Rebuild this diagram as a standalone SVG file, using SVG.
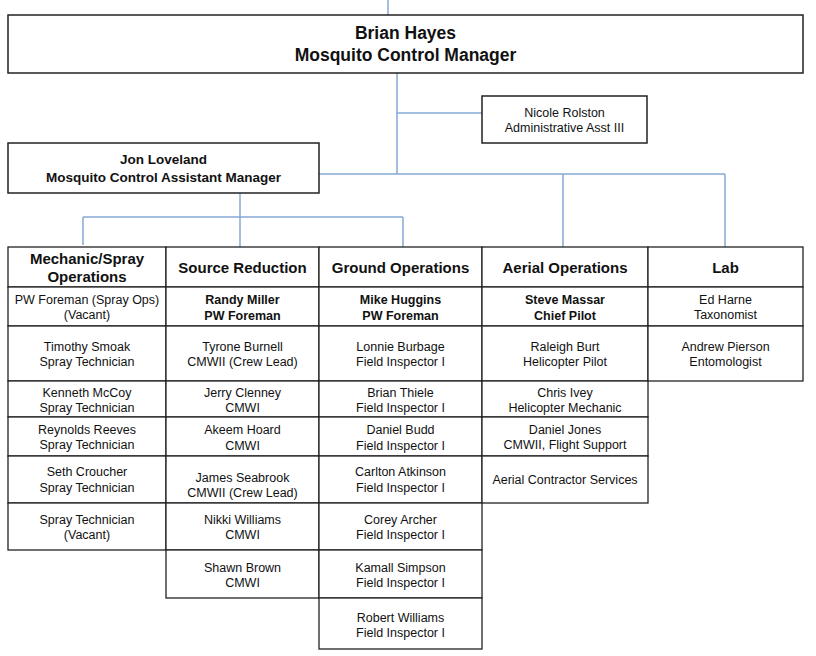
<svg xmlns="http://www.w3.org/2000/svg" width="816" height="656" viewBox="0 0 816 656">
<style>
  .box { fill: #ffffff; stroke: #222222; stroke-width: 1.5; }
  .cell { fill: #ffffff; stroke: #222222; stroke-width: 1.3; }
  .conn { stroke: #86a8d6; stroke-width: 1.5; fill: none; }
  text { font-family: "Liberation Sans", Arial, sans-serif; fill: #111111; text-anchor: middle; }
  .t1 { font-size: 17.5px; font-weight: bold; }
  .t2 { font-size: 13.5px; font-weight: bold; }
  .hd { font-size: 15px; font-weight: bold; }
  .bd { font-size: 12.5px; }
  .bb { font-size: 12.5px; font-weight: bold; }
</style>
<rect x="0" y="0" width="816" height="656" fill="#ffffff"/>
<g id="connectors">
  <line class="conn" x1="388" y1="0" x2="388" y2="15"/>
  <line class="conn" x1="397" y1="73" x2="397" y2="174"/>
  <line class="conn" x1="397" y1="113" x2="482" y2="113"/>
  <line class="conn" x1="319" y1="174" x2="725" y2="174"/>
  <line class="conn" x1="563" y1="174" x2="563" y2="247"/>
  <line class="conn" x1="725" y1="174" x2="725" y2="247"/>
  <line class="conn" x1="240" y1="193" x2="240" y2="247"/>
  <line class="conn" x1="83" y1="217" x2="403" y2="217"/>
  <line class="conn" x1="83" y1="217" x2="83" y2="245"/>
  <line class="conn" x1="403" y1="217" x2="403" y2="247"/>
</g>
<g id="brian-hayes">
  <rect class="box" x="8" y="15" width="795" height="58"/>
  <text class="t1" x="405.5" y="39">Brian Hayes</text>
  <text class="t1" x="405.5" y="61">Mosquito Control Manager</text>
</g>
<g id="nicole-rolston">
  <rect class="box" x="482" y="96" width="165" height="47"/>
  <text class="bd" x="564.5" y="117">Nicole Rolston</text>
  <text class="bd" x="564.5" y="132">Administrative Asst III</text>
</g>
<g id="jon-loveland">
  <rect class="box" x="8" y="143" width="311" height="50"/>
  <text class="t2" x="163.5" y="164">Jon Loveland</text>
  <text class="t2" x="163.5" y="182">Mosquito Control Assistant Manager</text>
</g>

<!-- Column 1: Mechanic/Spray Operations -->
<g id="mechanic-spray-operations">
  <rect class="cell" x="8" y="247" width="158" height="40"/>
  <text class="hd" x="87" y="264">Mechanic/Spray</text>
  <text class="hd" x="87" y="282">Operations</text>
</g>
<g id="pw-foreman-spray-ops">
  <rect class="cell" x="8" y="287" width="158" height="39"/>
  <text class="bd" x="87" y="304">PW Foreman (Spray Ops)</text>
  <text class="bd" x="87" y="319">(Vacant)</text>
</g>
<g id="timothy-smoak">
  <rect class="cell" x="8" y="326" width="158" height="55"/>
  <text class="bd" x="87" y="351">Timothy Smoak</text>
  <text class="bd" x="87" y="366">Spray Technician</text>
</g>
<g id="kenneth-mccoy">
  <rect class="cell" x="8" y="381" width="158" height="36"/>
  <text class="bd" x="87" y="397">Kenneth McCoy</text>
  <text class="bd" x="87" y="412">Spray Technician</text>
</g>
<g id="reynolds-reeves">
  <rect class="cell" x="8" y="417" width="158" height="39"/>
  <text class="bd" x="87" y="434">Reynolds Reeves</text>
  <text class="bd" x="87" y="449">Spray Technician</text>
</g>
<g id="seth-croucher">
  <rect class="cell" x="8" y="456" width="158" height="47"/>
  <text class="bd" x="87" y="476">Seth Croucher</text>
  <text class="bd" x="87" y="492">Spray Technician</text>
</g>
<g id="spray-technician-vacant">
  <rect class="cell" x="8" y="503" width="158" height="47"/>
  <text class="bd" x="87" y="524">Spray Technician</text>
  <text class="bd" x="87" y="539">(Vacant)</text>
</g>

<!-- Column 2: Source Reduction -->
<g id="source-reduction">
  <rect class="cell" x="166" y="247" width="153" height="40"/>
  <text class="hd" x="242.5" y="273">Source Reduction</text>
</g>
<g id="randy-miller">
  <rect class="cell" x="166" y="287" width="153" height="39"/>
  <text class="bb" x="242.5" y="304">Randy Miller</text>
  <text class="bb" x="242.5" y="320">PW Foreman</text>
</g>
<g id="tyrone-burnell">
  <rect class="cell" x="166" y="326" width="153" height="55"/>
  <text class="bd" x="242.5" y="351">Tyrone Burnell</text>
  <text class="bd" x="242.5" y="366">CMWII (Crew Lead)</text>
</g>
<g id="jerry-clenney">
  <rect class="cell" x="166" y="381" width="153" height="36"/>
  <text class="bd" x="242.5" y="397">Jerry Clenney</text>
  <text class="bd" x="242.5" y="412">CMWI</text>
</g>
<g id="akeem-hoard">
  <rect class="cell" x="166" y="417" width="153" height="39"/>
  <text class="bd" x="242.5" y="434">Akeem Hoard</text>
  <text class="bd" x="242.5" y="450">CMWI</text>
</g>
<g id="james-seabrook">
  <rect class="cell" x="166" y="456" width="153" height="47"/>
  <text class="bd" x="242.5" y="482">James Seabrook</text>
  <text class="bd" x="242.5" y="497">CMWII (Crew Lead)</text>
</g>
<g id="nikki-williams">
  <rect class="cell" x="166" y="503" width="153" height="47"/>
  <text class="bd" x="242.5" y="524">Nikki Williams</text>
  <text class="bd" x="242.5" y="539">CMWI</text>
</g>
<g id="shawn-brown">
  <rect class="cell" x="166" y="550" width="153" height="48"/>
  <text class="bd" x="242.5" y="572">Shawn Brown</text>
  <text class="bd" x="242.5" y="587">CMWI</text>
</g>

<!-- Column 3: Ground Operations -->
<g id="ground-operations">
  <rect class="cell" x="319" y="247" width="163" height="40"/>
  <text class="hd" x="400.5" y="273">Ground Operations</text>
</g>
<g id="mike-huggins">
  <rect class="cell" x="319" y="287" width="163" height="39"/>
  <text class="bb" x="400.5" y="304">Mike Huggins</text>
  <text class="bb" x="400.5" y="320">PW Foreman</text>
</g>
<g id="lonnie-burbage">
  <rect class="cell" x="319" y="326" width="163" height="55"/>
  <text class="bd" x="400.5" y="351">Lonnie Burbage</text>
  <text class="bd" x="400.5" y="366">Field Inspector I</text>
</g>
<g id="brian-thiele">
  <rect class="cell" x="319" y="381" width="163" height="36"/>
  <text class="bd" x="400.5" y="397">Brian Thiele</text>
  <text class="bd" x="400.5" y="412">Field Inspector I</text>
</g>
<g id="daniel-budd">
  <rect class="cell" x="319" y="417" width="163" height="39"/>
  <text class="bd" x="400.5" y="434">Daniel Budd</text>
  <text class="bd" x="400.5" y="450">Field Inspector I</text>
</g>
<g id="carlton-atkinson">
  <rect class="cell" x="319" y="456" width="163" height="47"/>
  <text class="bd" x="400.5" y="476">Carlton Atkinson</text>
  <text class="bd" x="400.5" y="492">Field Inspector I</text>
</g>
<g id="corey-archer">
  <rect class="cell" x="319" y="503" width="163" height="47"/>
  <text class="bd" x="400.5" y="524">Corey Archer</text>
  <text class="bd" x="400.5" y="539">Field Inspector I</text>
</g>
<g id="kamall-simpson">
  <rect class="cell" x="319" y="550" width="163" height="48"/>
  <text class="bd" x="400.5" y="572">Kamall Simpson</text>
  <text class="bd" x="400.5" y="587">Field Inspector I</text>
</g>
<g id="robert-williams">
  <rect class="cell" x="319" y="598" width="163" height="51"/>
  <text class="bd" x="400.5" y="622">Robert Williams</text>
  <text class="bd" x="400.5" y="637">Field Inspector I</text>
</g>

<!-- Column 4: Aerial Operations -->
<g id="aerial-operations">
  <rect class="cell" x="482" y="247" width="166" height="40"/>
  <text class="hd" x="565" y="273">Aerial Operations</text>
</g>
<g id="steve-massar">
  <rect class="cell" x="482" y="287" width="166" height="39"/>
  <text class="bb" x="565" y="304">Steve Massar</text>
  <text class="bb" x="565" y="320">Chief Pilot</text>
</g>
<g id="raleigh-burt">
  <rect class="cell" x="482" y="326" width="166" height="55"/>
  <text class="bd" x="565" y="351">Raleigh Burt</text>
  <text class="bd" x="565" y="366">Helicopter Pilot</text>
</g>
<g id="chris-ivey">
  <rect class="cell" x="482" y="381" width="166" height="36"/>
  <text class="bd" x="565" y="397">Chris Ivey</text>
  <text class="bd" x="565" y="412">Helicopter Mechanic</text>
</g>
<g id="daniel-jones">
  <rect class="cell" x="482" y="417" width="166" height="39"/>
  <text class="bd" x="565" y="434">Daniel Jones</text>
  <text class="bd" x="565" y="449">CMWII, Flight Support</text>
</g>
<g id="aerial-contractor-services">
  <rect class="cell" x="482" y="456" width="166" height="47"/>
  <text class="bd" x="565" y="484">Aerial Contractor Services</text>
</g>

<!-- Column 5: Lab -->
<g id="lab">
  <rect class="cell" x="648" y="247" width="155" height="40"/>
  <text class="hd" x="725.5" y="273">Lab</text>
</g>
<g id="ed-harne">
  <rect class="cell" x="648" y="287" width="155" height="39"/>
  <text class="bd" x="725.5" y="304">Ed Harne</text>
  <text class="bd" x="725.5" y="319">Taxonomist</text>
</g>
<g id="andrew-pierson">
  <rect class="cell" x="648" y="326" width="155" height="55"/>
  <text class="bd" x="725.5" y="351">Andrew Pierson</text>
  <text class="bd" x="725.5" y="366">Entomologist</text>
</g>
</svg>
